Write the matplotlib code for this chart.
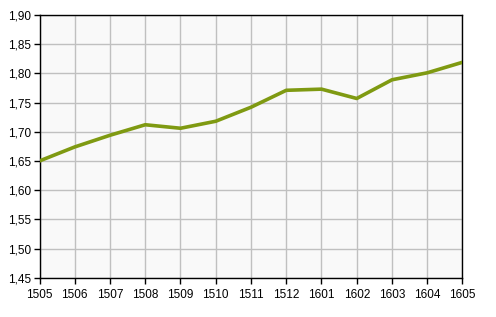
import matplotlib
matplotlib.use("Agg")
import matplotlib.pyplot as plt

periods = ["1505", "1506", "1507", "1508", "1509", "1510", "1511", "1512",
           "1601", "1602", "1603", "1604", "1605"]
values = [1.650, 1.674, 1.694, 1.712, 1.706, 1.718, 1.742, 1.771,
          1.773, 1.757, 1.789, 1.801, 1.819]
yticks = [1.45, 1.50, 1.55, 1.60, 1.65, 1.70, 1.75, 1.80, 1.85, 1.90]

plt.rcParams['font.family'] = ['Liberation Sans', 'DejaVu Sans']
fig = plt.figure(figsize=(4.96, 3.17), dpi=100)
ax = fig.add_axes([39.5/496, 1 - 277.7/317, (462.5-39.5)/496, (277.7-15)/317])
ax.set_facecolor('#f9f9f9')
x = list(range(len(periods)))
ax.plot(x, values, color='#7f9a12', linewidth=2.6, solid_capstyle='round', zorder=3)
ax.set_xlim(0, len(periods) - 1)
ax.set_ylim(1.45, 1.90)
ax.set_xticks(x)
ax.set_xticklabels(periods)
ax.set_yticks(yticks)
ax.set_yticklabels([f"{v:.2f}".replace('.', ',') for v in yticks])
ax.grid(True, color='#c0c0c0', linewidth=1.0)
ax.set_axisbelow(True)
for s in ax.spines.values():
    s.set_color('black')
    s.set_linewidth(1.0)
ax.tick_params(axis='both', labelsize=8.5, length=4, width=1, color='black', pad=2)
ax.tick_params(axis='x', pad=4)
fig.savefig('out.png', dpi=100, facecolor='white')
